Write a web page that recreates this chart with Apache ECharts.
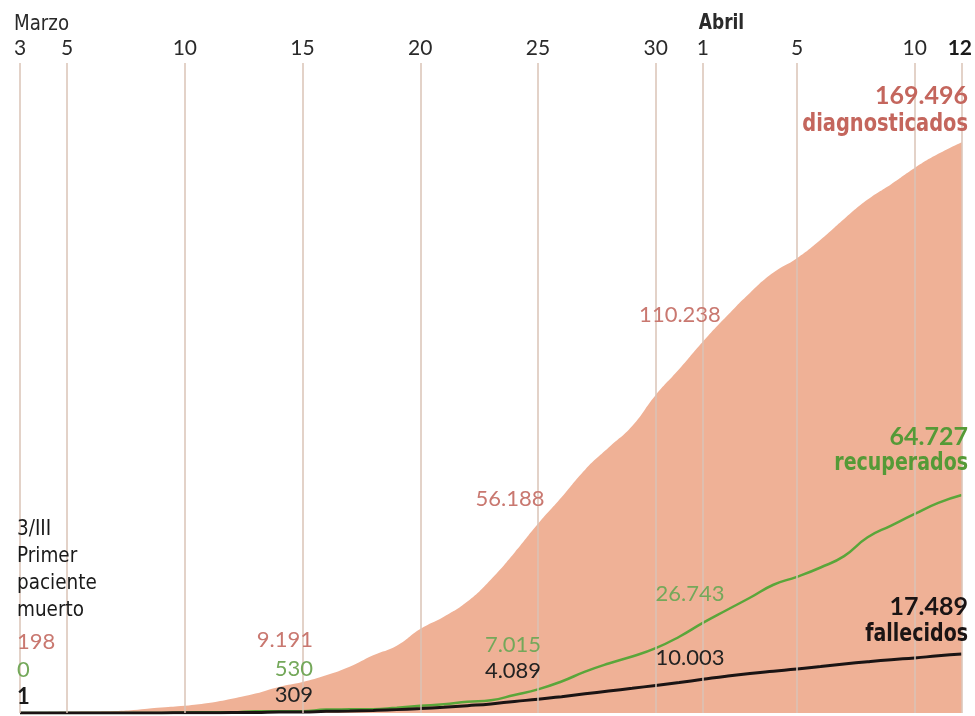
<!DOCTYPE html>
<html><head><meta charset="utf-8">
<script src="https://cdn.jsdelivr.net/npm/echarts@6/dist/echarts.min.js"></script>
<style>html,body{margin:0;padding:0;background:#fff}#c{width:975px;height:716px}</style>
</head><body><div id="c"></div>
<script>
const dates = ['3 mar','4 mar','5 mar','6 mar','7 mar','8 mar','9 mar','10 mar','11 mar','12 mar','13 mar','14 mar','15 mar','16 mar','17 mar','18 mar','19 mar','20 mar','21 mar','22 mar','23 mar','24 mar','25 mar','26 mar','27 mar','28 mar','29 mar','30 mar','31 mar','1 abr','2 abr','3 abr','4 abr','5 abr','6 abr','7 abr','8 abr','9 abr','10 abr','11 abr','12 abr'];
const diagnosticados = [198,257,365,430,589,999,1622,2128,2950,4209,5753,7753,9191,11178,13716,17147,19980,24926,28572,33089,39673,47610,56188,64059,72248,78797,85195,94417,102136,110238,117710,124736,130759,135032,140510,146690,152446,157022,161852,166019,169496];
const recuperados = [0,0,2,2,2,32,32,183,189,193,517,517,530,1028,1081,1107,1588,2125,2575,3355,3794,5367,7015,9357,12285,14709,16780,19259,22647,26743,30513,34219,38080,40437,43208,46587,52165,55668,59109,62391,64727];
const fallecidos = [1,3,5,10,17,28,35,54,84,120,136,288,309,491,598,767,1002,1326,1720,2182,2696,3434,4089,4858,5690,6528,7340,8189,9053,10003,10935,11744,12418,13055,13798,14555,15238,15843,16353,16972,17489];
const tickIndex = [0,2,7,12,17,22,27,29,33,38,40];
const tickLabels = ['3','5','10','15','20','25','30','1','5','10','12'];
const monthLabels = ['Marzo','Abril'];
const monthIndex = [0,29];

const NUM = 'Lato, "Open Sans", sans-serif';
const NAR = '"Liberation Sans Narrow", "DejaVu Sans Condensed", "Arial Narrow", sans-serif';
const C_SAL = '#c4665d', C_SAL2 = '#c97870', C_GRN = '#559a37', C_GRN2 = '#74a85a', C_BLK = '#1a1414';

const chart = echarts.init(document.getElementById('c'));
chart.setOption({
  animation: false,
  backgroundColor: '#fff',
  grid: {left: 20, right: 9, top: 63, bottom: 3},
  xAxis: {
    type: 'category', data: dates, boundaryGap: false, position: 'top',
    axisLine: {show: false}, axisTick: {show: false}, splitLine: {show: false},
    axisLabel: {
      interval: (i) => tickIndex.includes(i),
      showMinLabel: true, showMaxLabel: true,
      margin: 4, color: '#2a2a2a', fontFamily: NUM, fontSize: 21,
      formatter: (v, i) => {
        const k = tickIndex.indexOf(i);
        if (k < 0) return '';
        return k === tickIndex.length - 1 ? '{b|' + tickLabels[k] + '}' : tickLabels[k];
      },
      rich: {b: {fontWeight: 'bold', fontFamily: NUM, fontSize: 21, color: '#1a1a1a', padding: [0, 4, 0, 0]}}
    }
  },
  yAxis: {type: 'value', min: 0, max: 193000, show: false},
  series: [
    {type: 'line', data: diagnosticados, smooth: 0.5, symbol: 'none', z: 1,
     lineStyle: {width: 0}, areaStyle: {color: '#efb196', opacity: 1}},
    {type: 'line', data: recuperados, smooth: 0.5, symbol: 'none', z: 3,
     lineStyle: {color: '#5aa63a', width: 2.5}},
    {type: 'line', data: fallecidos, smooth: 0.5, symbol: 'none', z: 4,
     lineStyle: {color: C_BLK, width: 3}},
    {type: 'line', data: [], z: 6,
     markLine: {silent: true, symbol: ['none', 'none'], animation: false,
       label: {show: false},
       lineStyle: {color: '#dac3b6', width: 1.5, type: 'solid'},
       data: tickIndex.map(i => ({xAxis: i}))}}
  ]
});

const px = (i) => chart.convertToPixel({xAxisIndex: 0}, i);
const T = (text, x, y, align, color, size, weight, family, sx) => ({
  type: 'text', x: x, y: y, z: 100, scaleX: sx || 1,
  style: {text: text, fill: color, font: (weight || 'normal') + ' ' + size + 'px ' + family,
          textAlign: align, textVerticalAlign: 'middle'}
});
const g = [];
g.push(T(monthLabels[0], px(monthIndex[0]) - 6, 24, 'left', '#2a2a2a', 22, 'normal', NAR, 0.92));
g.push(T(monthLabels[1], px(monthIndex[1]) - 4, 24, 'left', '#2a2a2a', 21, 'bold', NAR, 0.9));
g.push(T('169.496', 968, 96, 'right', C_SAL, 25, 'bold', NUM));
g.push(T('diagnosticados', 968, 125, 'right', C_SAL, 24, 'bold', NAR, 0.9));
g.push(T('64.727', 968, 437, 'right', C_GRN, 25, 'bold', NUM));
g.push(T('recuperados', 968, 464, 'right', C_GRN, 24, 'bold', NAR, 0.88));
g.push(T('17.489', 968, 607, 'right', C_BLK, 25, 'bold', NUM));
g.push(T('fallecidos', 968, 635, 'right', C_BLK, 24, 'bold', NAR, 0.88));
g.push(T('110.238', 680, 315, 'center', C_SAL2, 22, 'normal', NUM));
g.push(T('56.188', 510, 499, 'center', C_SAL2, 22, 'normal', NUM));
g.push(T('26.743', 690, 594, 'center', C_GRN2, 22, 'normal', NUM));
g.push(T('10.003', 690, 658, 'center', '#222', 22, 'normal', NUM));
g.push(T('7.015', 513, 645, 'center', C_GRN2, 22, 'normal', NUM));
g.push(T('4.089', 513, 671, 'center', '#222', 22, 'normal', NUM));
g.push(T('9.191', 313, 640, 'right', C_SAL2, 22, 'normal', NUM));
g.push(T('530', 313, 669, 'right', C_GRN2, 22, 'normal', NUM));
g.push(T('309', 313, 695, 'right', '#222', 22, 'normal', NUM));
const leftLines = ['3/III', 'Primer', 'paciente', 'muerto'];
const leftY = [529, 556, 583, 610];
leftLines.forEach((t, k) => g.push(T(t, 17, leftY[k], 'left', '#1a1a1a', 22, 'normal', NAR, 0.93)));
g.push(T('198', 17, 642, 'left', C_SAL2, 22, 'normal', NUM));
g.push(T('0', 17, 670, 'left', C_GRN2, 22, 'normal', NUM));
g.push(T('1', 17, 697, 'left', '#1a1a1a', 22, 'bold', NUM));
chart.setOption({graphic: {elements: g}});
</script></body></html>
